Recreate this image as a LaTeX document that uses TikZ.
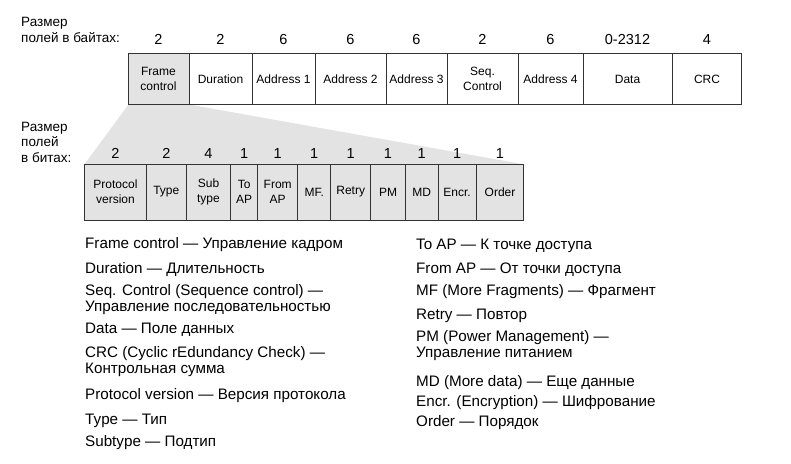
\documentclass[tikz,border=0pt]{standalone}
\usepackage{fontspec}
\setmainfont{Liberation Sans}
\begin{document}
\begin{tikzpicture}[x=1pt,y=-1pt,
  cellw/.style={draw=black!80, line width=1pt, fill=white, inner sep=0pt, align=center,
    font=\fontsize{12}{15}\selectfont, minimum height=51pt},
  cellg/.style={cellw, fill=black!11, minimum height=56pt},
  num/.style={font=\fontsize{14.5}{15}\selectfont, inner sep=0pt, anchor=base},
  lbl/.style={font=\fontsize{13.5}{15.5}\selectfont, inner sep=0pt, anchor=west, align=left},
  leg/.style={font=\fontsize{15.2}{16}\selectfont, inner sep=0pt, anchor=west, align=left}]
\useasboundingbox (0,0) rectangle (791,463);
% projection
\path[fill=black!11] (128.5,104.5) -- (189,104.5) -- (523.7,164.3) -- (84.5,164.3) -- cycle;
% top row cells
\node[cellw, fill=black!11, minimum width=61pt] (fc) at (158.5,79) {Frame\\control};
\node[cellw, minimum width=63pt] (du) at (220.5,79) {Duration};
\node[cellw, minimum width=63pt] (a1) at (283.5,79) {Address 1};
\node[cellw, minimum width=71pt] (a2) at (350.5,79) {Address 2};
\node[cellw, minimum width=61pt] (a3) at (416.5,79) {Address 3};
\node[cellw, minimum width=71pt] (sc) at (482.5,79) {Seq.\\Control};
\node[cellw, minimum width=65pt] (a4) at (550.5,79) {Address 4};
\node[cellw, minimum width=89pt] (da) at (627.5,79) {Data};
\node[cellw, minimum width=69pt] (crc) at (707,79) {CRC};
% byte sizes
\foreach \x/\t [count=\i] in {158.5/2,220.5/2,283.5/6,350.5/6,416.5/6,482.5/2,550.5/6,627.5/0-2312,707/4}
  \node[num] (b\i) at (\x,44) {\t};
\node[lbl] (lb1) at (21,30) {Размер\\полей в байтах:};
% bottom row
\node[cellg, minimum width=61.6pt] (pv) at (115.5,192) {Protocol\\version};
\node[cellg, minimum width=40pt] (ty) at (166.3,192) {Type};
\node[cellg, minimum width=44.4pt] (st) at (208.5,192) {Sub\\type};
\node[cellg, minimum width=27pt] (ta) at (244.2,192) {To\\AP};
\node[cellg, minimum width=40pt] (fa) at (277.7,192) {From\\AP};
\node[cellg, minimum width=33pt] (mf) at (314.2,192) {MF.};
\node[cellg, minimum width=40pt] (re) at (350.7,192) {Retry};
\node[cellg, minimum width=34.6pt] (pm) at (388,192) {PM};
\node[cellg, minimum width=32.7pt] (md) at (421.65,192) {MD};
\node[cellg, minimum width=38.3pt] (en) at (457.15,192) {Encr.};
\node[cellg, minimum width=47.4pt] (or) at (500,192) {Order};
% bit sizes
\foreach \x/\t [count=\i] in {115.5/2,166.3/2,208.5/4,244.2/1,277.7/1,314.2/1,350.7/1,388/1,421.65/1,457.15/1,500/1}
  \node[num] (s\i) at (\x,158) {\t};
\node[lbl] (lb2) at (21,142) {Размер\\полей\\в битах:};
% legend left
\node[leg] (l1) at (85,245) {Frame control — Управление кадром};
\node[leg] (l2) at (85,270) {Duration — Длительность};
\node[leg] (l3) at (85,300) {Seq. Control (Sequence control) —\\Управление последовательностью};
\node[leg] (l4) at (85,330) {Data — Поле данных};
\node[leg] (l5) at (85,362) {CRC (Cyclic rEdundancy Check) —\\Контрольная сумма};
\node[leg] (l6) at (85,396) {Protocol version — Версия протокола};
\node[leg] (l7) at (85,421) {Type — Тип};
\node[leg] (l8) at (85,443) {Subtype — Подтип};
% legend right
\node[leg] (r1) at (416,246) {To AP — К точке доступа};
\node[leg] (r2) at (416,270) {From AP — От точки доступа};
\node[leg] (r3) at (416,292) {MF (More Fragments) — Фрагмент};
\node[leg] (r4) at (416,316) {Retry — Повтор};
\node[leg] (r5) at (416,346) {PM (Power Management) —\\Управление питанием};
\node[leg] (r6) at (416,383) {MD (More data) — Еще данные};
\node[leg] (r7) at (416,403) {Encr. (Encryption) — Шифрование};
\node[leg] (r8) at (416,423) {Order — Порядок};
\end{tikzpicture}
\end{document}
